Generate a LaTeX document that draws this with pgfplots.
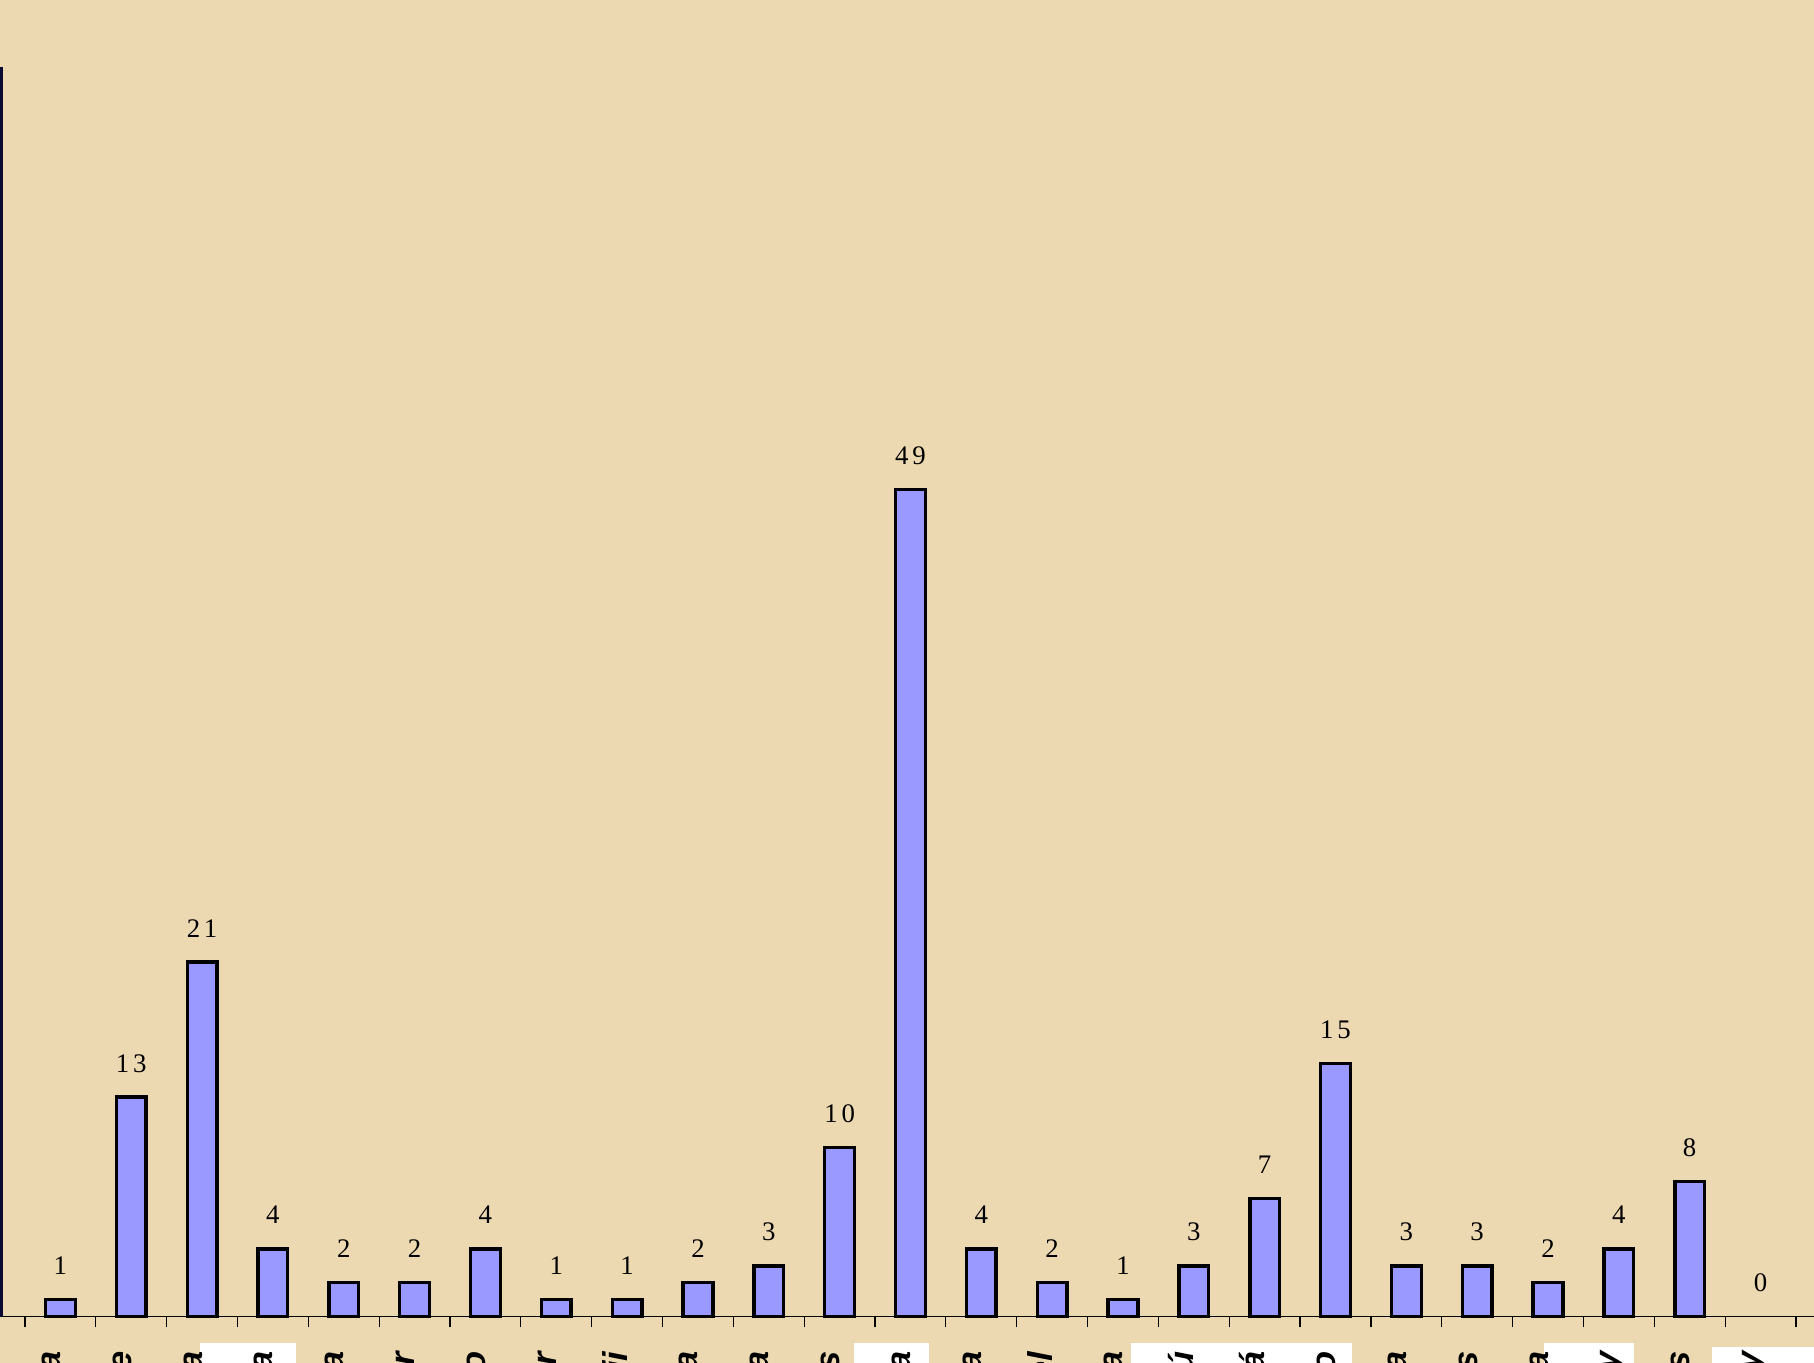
\documentclass[border=0pt]{standalone}
\usepackage{fontspec}
\usepackage{pgfplots}
\pgfplotsset{compat=1.18}
\setmainfont{Liberation Serif}
\newfontfamily\labfont[LetterSpace=14]{Liberation Serif}
\newfontfamily\tickfont{Liberation Sans}
\definecolor{parch}{RGB}{236,217,178}
\definecolor{barblue}{RGB}{153,153,255}
\definecolor{navy}{RGB}{10,10,50}
\begin{document}
\begin{tikzpicture}[x=1pt,y=1pt]
\fill[parch] (0,0) rectangle (453.5,340.75);
% white label backgrounds
\fill[white] (50,0) rectangle (74,5);
\fill[white] (213.5,0) rectangle (232.25,5);
\fill[white] (282.75,0) rectangle (338,5);
\fill[white] (386,0) rectangle (408.5,5);
\fill[white] (428.1,0) rectangle (453.5,4);
\begin{axis}[
  at={(0.4pt,11.625pt)}, anchor=south west,
  scale only axis, width=453.9pt, height=312.3pt,
  xmin=0.1697, xmax=25.8, ymin=0, ymax=74,
  axis x line=bottom, axis y line=left,
  x axis line style={-, black, line width=0.35pt},
  y axis line style={-, navy, line width=0.83pt},
  ytick=\empty,
  xtick={1,...,25},
  xticklabels={Argentina,Chile,Colombia,Costa Rica,Cuba,Ecuador,México,El Salvador,Hawaii,Guatemala,Nicaragua,Honduras,España,Venezuela,Israel,Bolivia,Perú,Panamá,Puerto Rico,Francia,Estados Unidos,Italia,Uruguay,Filipinas,Paraguay},
  major tick length=0pt,
  minor xtick={0.5,1.5,...,25.5},
  minor tick length=2.7pt,
  tick align=outside,
  minor tick style={black, line width=0.3pt},
  x tick label style={yshift=-8.6pt, rotate=90, anchor=base east, inner sep=0pt,
    font=\tickfont\bfseries\itshape\fontsize{8.6}{10}\selectfont},
  /pgf/number format/assume math mode=true,
  nodes near coords,
  every node near coord/.append style={font=\labfont\fontsize{6.7}{8}\selectfont,
    anchor=base, inner sep=0pt, yshift=6.25pt, black},
  clip=false,
]
\addplot[ybar, bar width=7.43pt, bar shift=0pt, fill=barblue, draw=black, line width=0.85pt]
  coordinates {(1,1) (2,13) (3,21) (4,4) (5,2) (6,2) (7,4) (8,1) (9,1) (10,2)
    (11,3) (12,10) (13,49) (14,4) (15,2) (16,1) (17,3) (18,7) (19,15) (20,3)
    (21,3) (22,2) (23,4) (24,8)};
\addplot[ybar, bar width=7.43pt, bar shift=0pt, fill=none, draw=none]
  coordinates {(25,0)};
\end{axis}
\pgfresetboundingbox
\path[use as bounding box] (0,0) rectangle (453.5,340.75);
\end{tikzpicture}
\end{document}
